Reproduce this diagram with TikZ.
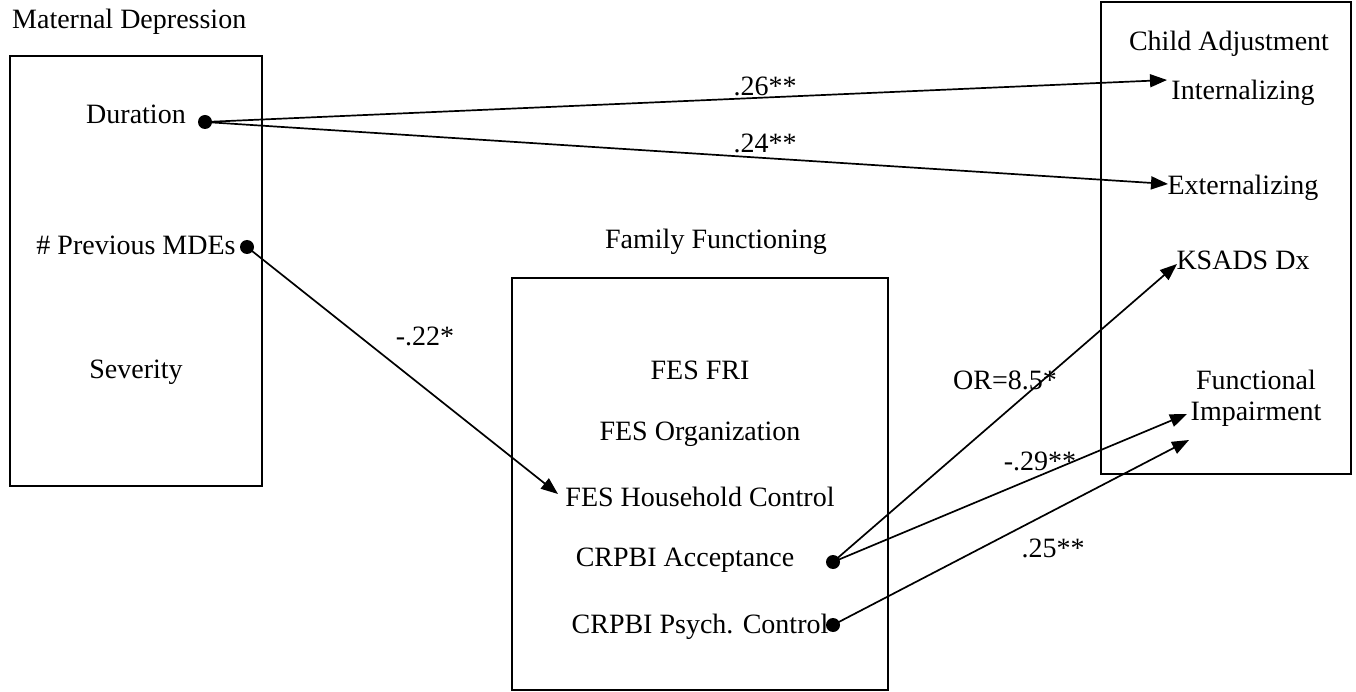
\documentclass[tikz,border=0pt]{standalone}
\usepackage{fontspec}
\setmainfont{Liberation Serif}
\usetikzlibrary{arrows.meta}

\tikzset{
  box/.style={draw, line width=1.5pt},
  path/.style={line width=1.7pt, -{Triangle[length=17pt,width=13pt]}},
  dot/.style={fill=black, circle, minimum size=14pt, inner sep=0pt},
}

\begin{document}
\begin{tikzpicture}[x=1pt,y=-1pt,inner sep=0pt,font=\fontsize{28}{32}\selectfont]

\useasboundingbox (0,0) rectangle (1356,692);

% boxes
\draw[box] (10,56) rectangle (262,486);
\draw[box] (512,278) rectangle (888,690);
\draw[box] (1101,2) rectangle (1351,474);

% titles
\node(mattitle) at (12,22) [anchor=west] {Maternal Depression};
\node(famtitle) at (716,242) {Family Functioning};
\node(chtitle) at (1229,44) {Child Adjustment};

% maternal depression
\node(dur) at (136,114) {Duration};
\node(mde) at (136,245) {\# Previous MDEs};
\node(sev) at (136,372) {Severity};

% family functioning
\node(fri) at (700,370) {FES FRI};
\node(org) at (700,434) {FES Organization};
\node(hhc) at (700,497) {FES Household Control};
\node(acc) at (685,560) {CRPBI Acceptance};
\node(psy) at (700,627) {CRPBI Psych. Control};

% child adjustment
\node(int) at (1243,93) {Internalizing};
\node(ext) at (1243,188) {Externalizing};
\node(ksads) at (1243,260) {KSADS Dx};
\node(fimp) at (1256,398) [align=center] {Functional\\[-1pt]Impairment};

% path ends
\node(durdot) at (205,122) [dot] {};
\node(mdedot) at (247,247) [dot] {};
\node(accdot) at (833,562) [dot] {};
\node(psydot) at (833,625) [dot] {};
\coordinate(inttip) at (1167,80);
\coordinate(exttip) at (1168,184);
\coordinate(hhctip) at (558,494);
\coordinate(ksadstip) at (1177,264);
\coordinate(fimptipa) at (1187,414);
\coordinate(fimptipb) at (1189,440);

\draw[path] (durdot.center) -- (inttip);
\draw[path] (durdot.center) -- (exttip);
\draw[path] (mdedot.center) -- (hhctip);
\draw[path] (accdot.center) -- (ksadstip);
\draw[path] (accdot.center) -- (fimptipa);
\draw[path] (psydot.center) -- (fimptipb);

% coefficients
\node(c1) at (765,86) {.26**};
\node(c2) at (765,143) {.24**};
\node(c3) at (425,336) {-.22*};
\node(c4) at (1005,380) {OR=8.5*};
\node(c5) at (1040,461) {-.29**};
\node(c6) at (1053,548) {.25**};

\end{tikzpicture}
\end{document}
